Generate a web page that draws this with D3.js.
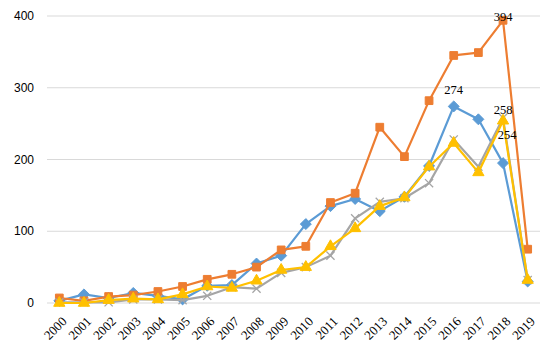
<!DOCTYPE html>
<html>
<head>
<meta charset="utf-8">
<script src="https://cdn.jsdelivr.net/npm/d3@7"></script>
<style>
  html, body { margin: 0; padding: 0; background: #fff; }
  svg { display: block; }
</style>
</head>
<body>
<svg id="chart" width="554" height="343"></svg>
<script>
const years = ["2000","2001","2002","2003","2004","2005","2006","2007","2008","2009",
               "2010","2011","2012","2013","2014","2015","2016","2017","2018","2019"];
const blueValues   = [3, 12, 7, 14, 10, 5, 24, 25, 55, 66, 110, 135, 145, 128, 148, 191, 274, 256, 195, 30];
const orangeValues = [7, 3, 9, 11, 16, 23, 33, 40, 50, 74, 79, 140, 153, 245, 204, 282, 345, 349, 394, 75];
const grayValues   = [1, 1, 1, 5, 5, 4, 10, 22, 20, 42, 50, 66, 118, 141, 146, 167, 228, 190, 258, 32];
const yellowValues = [0, 0, 4, 6, 5, 12, 23, 21, 31, 46, 50, 79, 104, 135, 147, 190, 223, 182, 254, 32];
const yTicks = [0, 100, 200, 300, 400];

const series = [
  { name: "blue",   values: blueValues,   color: "#5B9BD5", marker: "diamond" },
  { name: "orange", values: orangeValues, color: "#ED7D31", marker: "square" },
  { name: "gray",   values: grayValues,   color: "#A5A5A5", marker: "x" },
  { name: "yellow", values: yellowValues, color: "#FFC000", marker: "triangle" }
];

const dataLabels = [
  { series: "orange", idx: 18, dx: 0, dy: 1 },
  { series: "blue",   idx: 16, dx: 0, dy: -12 },
  { series: "gray",   idx: 18, dx: 0, dy: -4 },
  { series: "yellow", idx: 18, dx: 4, dy: 18 }
];

const svg = d3.select("#chart");
const plot = { left: 47, right: 540, top: 16, bottom: 303 };

const x = d3.scaleBand().domain(years).range([plot.left, plot.right]);
const y = d3.scaleLinear().domain([0, 400]).range([plot.bottom, plot.top]);
const cx = d => x(d) + x.bandwidth() / 2;

svg.append("g").selectAll("line").data(yTicks).join("line")
  .attr("x1", plot.left).attr("x2", plot.right)
  .attr("y1", d => y(d)).attr("y2", d => y(d))
  .attr("stroke", "#d9d9d9").attr("stroke-width", 1);

svg.append("g").selectAll("text").data(yTicks).join("text")
  .attr("x", 34).attr("y", d => y(d) + 4)
  .attr("text-anchor", "end")
  .attr("font-family", "Liberation Sans, Arial, sans-serif")
  .attr("font-size", 12).attr("fill", "#000")
  .text(d => d);

svg.append("g").selectAll("text").data(years).join("text")
  .attr("transform", d => `translate(${cx(d) + 5},${plot.bottom + 16}) rotate(-45)`)
  .attr("text-anchor", "end")
  .attr("dy", "0.35em")
  .attr("font-family", "Liberation Serif, Times New Roman, serif")
  .attr("font-size", 13).attr("fill", "#000")
  .text(d => d);

const line = d3.line().x((d, i) => cx(years[i])).y(d => y(d));

const squareDiamond = {
  draw(context, size) {
    const r = Math.sqrt(size / 2);
    context.moveTo(0, -r);
    context.lineTo(r, 0);
    context.lineTo(0, r);
    context.lineTo(-r, 0);
    context.closePath();
  }
};

const symbolMap = {
  diamond: squareDiamond,
  square: d3.symbolSquare,
  triangle: d3.symbolTriangle,
  x: d3.symbolTimes
};

series.forEach(s => {
  const g = svg.append("g");
  g.append("path").datum(s.values)
    .attr("d", line)
    .attr("fill", "none")
    .attr("stroke", s.color)
    .attr("stroke-width", 2.2)
    .attr("stroke-linejoin", "round");
  const size = s.marker === "square" ? 60 : s.marker === "diamond" ? 60 : s.marker === "triangle" ? 55 : 45;
  const sym = d3.symbol().type(symbolMap[s.marker]).size(size);
  g.selectAll("path.m").data(s.values).join("path")
    .attr("class", "m")
    .attr("transform", (d, i) => `translate(${cx(years[i])},${y(d)})`)
    .attr("d", sym)
    .attr("fill", s.marker === "x" ? "none" : s.color)
    .attr("stroke", s.color)
    .attr("stroke-width", s.marker === "x" ? 1.3 : 1);
});

svg.append("g").selectAll("text").data(dataLabels).join("text")
  .attr("x", d => cx(years[d.idx]) + d.dx)
  .attr("y", d => {
    const s = series.find(t => t.name === d.series);
    return y(s.values[d.idx]) + d.dy;
  })
  .attr("text-anchor", "middle")
  .attr("font-family", "Liberation Serif, Times New Roman, serif")
  .attr("font-size", 12.5).attr("fill", "#000")
  .text(d => series.find(t => t.name === d.series).values[d.idx]);
</script>
</body>
</html>
